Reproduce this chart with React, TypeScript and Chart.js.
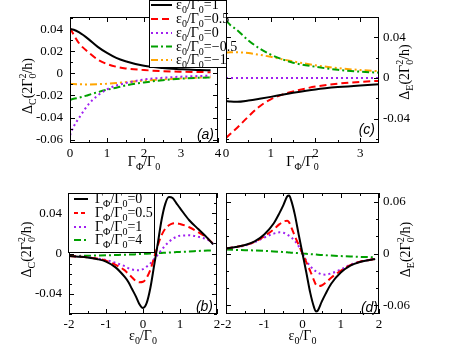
import React, { useEffect, useRef } from 'react';
import { Chart, registerables } from 'chart.js';

Chart.register(...registerables);

const W = 451;
const H = 349;
const SERIF = '"Liberation Serif", "Times New Roman", serif';
const SANS = '"Liberation Sans", Arial, sans-serif';

// ---------- data: panel (a)  Δ_C vs Γ_Φ/Γ_0 ----------
const aGammaPhi = [0, 0.1, 0.25, 0.5, 0.75, 1, 1.25, 1.5, 2, 2.5, 3, 3.5, 3.8];
const aEps1 = [0.04, 0.0395, 0.037, 0.031, 0.024, 0.0185, 0.014, 0.011, 0.0068, 0.0048, 0.0038, 0.003, 0.0028];
const aEps05 = [0.041, 0.035, 0.027, 0.019, 0.0125, 0.0085, 0.006, 0.0045, 0.003, 0.002, 0.0015, 0.0012, 0.001];
const aEps0 = [-0.056, -0.048, -0.04, -0.028, -0.02, -0.0145, -0.011, -0.0088, -0.0055, -0.004, -0.003, -0.0024, -0.002];
const aEpsM05 = [-0.024, -0.023, -0.022, -0.0195, -0.017, -0.0148, -0.013, -0.011, -0.0082, -0.0062, -0.0048, -0.004, -0.0036];
const aEpsM1 = [-0.0095, -0.0097, -0.0099, -0.01, -0.0098, -0.0094, -0.0088, -0.008, -0.0066, -0.0054, -0.0045, -0.0038, -0.0035];

// ---------- data: panel (c)  Δ_E vs Γ_Φ/Γ_0 ----------
const cGammaPhi = [0, 0.1, 0.25, 0.5, 0.75, 1, 1.25, 1.5, 2, 2.5, 3, 3.5];
const cEps1 = [-0.0228, -0.0232, -0.0234, -0.0222, -0.0205, -0.0186, -0.0165, -0.0146, -0.0113, -0.009, -0.0073, -0.006];
const cEps05 = [-0.059, -0.055, -0.049, -0.038, -0.028, -0.021, -0.0165, -0.0132, -0.0085, -0.0056, -0.0038, -0.0027];
const cEps0 = [0, 0, 0, 0, 0, 0, 0, 0, 0, 0, 0, 0];
const cEpsM05 = [0.0565, 0.052, 0.047, 0.037, 0.029, 0.023, 0.0185, 0.015, 0.011, 0.008, 0.0062, 0.005];
const cEpsM1 = [0.025, 0.0252, 0.0252, 0.0245, 0.0228, 0.0208, 0.0185, 0.0163, 0.0125, 0.0097, 0.0078, 0.0064];

// ---------- data: panel (b)  Δ_C vs ε_0/Γ_0 ----------
const bEps = [-2, -1.75, -1.5, -1.25, -1, -0.75, -0.5, -0.4, -0.3, -0.2, -0.1, 0, 0.1, 0.2, 0.3, 0.4, 0.5, 0.6, 0.7, 0.8, 0.9, 1, 1.25, 1.5, 1.75, 1.9];
const bG0 = [-0.0026, -0.0032, -0.004, -0.0055, -0.008, -0.0135, -0.023, -0.028, -0.035, -0.042, -0.05, -0.054, -0.049, -0.034, -0.012, 0.01, 0.033, 0.049, 0.056, 0.055, 0.05, 0.045, 0.033, 0.024, 0.015, 0.009];
const bG05 = [-0.0026, -0.0031, -0.0038, -0.005, -0.0072, -0.011, -0.0165, -0.02, -0.0235, -0.027, -0.0285, -0.028, -0.024, -0.016, -0.004, 0.008, 0.018, 0.0245, 0.028, 0.0298, 0.03, 0.0293, 0.026, 0.021, 0.0148, 0.0095];
const bG1 = [-0.0025, -0.003, -0.0037, -0.0048, -0.0065, -0.0092, -0.0125, -0.0145, -0.0158, -0.0165, -0.0165, -0.0155, -0.013, -0.0098, -0.0055, -0.0012, 0.0035, 0.008, 0.0115, 0.0145, 0.0165, 0.0177, 0.018, 0.0165, 0.0135, 0.0095];
const bG4 = [-0.0026, -0.0024, -0.0022, -0.002, -0.0018, -0.0015, -0.0012, -0.0011, -0.001, -0.0008, -0.0006, -0.0004, -0.0002, 0, 0.0002, 0.0004, 0.0006, 0.0008, 0.001, 0.0012, 0.0014, 0.0016, 0.002, 0.0025, 0.0029, 0.0031];

// ---------- data: panel (d)  Δ_E vs ε_0/Γ_0 ----------
const dEps = [-2, -1.75, -1.5, -1.25, -1, -0.75, -0.6, -0.5, -0.4, -0.35, -0.3, -0.2, -0.1, 0, 0.1, 0.2, 0.3, 0.35, 0.4, 0.5, 0.6, 0.75, 1, 1.25, 1.5, 1.75, 1.9];
const dG0 = [0.0058, 0.0075, 0.0098, 0.014, 0.022, 0.035, 0.047, 0.056, 0.066, 0.067, 0.062, 0.045, 0.022, 0, -0.022, -0.045, -0.062, -0.067, -0.066, -0.056, -0.047, -0.035, -0.022, -0.014, -0.0098, -0.0075, -0.0063];
const dG05 = [0.0058, 0.0074, 0.0096, 0.0135, 0.02, 0.028, 0.034, 0.037, 0.0378, 0.036, 0.031, 0.02, 0.01, 0, -0.01, -0.02, -0.031, -0.036, -0.0378, -0.037, -0.034, -0.028, -0.02, -0.0135, -0.0096, -0.0074, -0.0062];
const dG1 = [0.0058, 0.0073, 0.0094, 0.013, 0.0185, 0.023, 0.0245, 0.024, 0.022, 0.0205, 0.019, 0.0145, 0.0085, 0, -0.0085, -0.0145, -0.019, -0.0205, -0.022, -0.024, -0.0245, -0.023, -0.0185, -0.013, -0.0094, -0.0073, -0.0062];
const dG4 = [0.0045, 0.0042, 0.0039, 0.0035, 0.003, 0.0024, 0.002, 0.0017, 0.0014, 0.0012, 0.001, 0.0007, 0.00035, 0, -0.00035, -0.0007, -0.001, -0.0012, -0.0014, -0.0017, -0.002, -0.0024, -0.003, -0.0035, -0.0039, -0.0042, -0.0044];

// ---------- ticks ----------
const aXTicks = [0, 1, 2, 3, 4];
const aXLabels = ['0', '1', '2', '3', '4'];
const aYTicks = [-0.06, -0.04, -0.02, 0, 0.02, 0.04];
const aYLabels = ['-0.06', '-0.04', '-0.02', '0', '0.02', '0.04'];
const cXTicks = [0, 1, 2, 3];
const cXLabels = ['0', '1', '2', '3'];
const cYTicks = [-0.04, 0, 0.04];
const cYLabels = ['-0.04', '0', '0.04'];
const bXTicks = [-2, -1, 0, 1, 2];
const bXLabels = ['-2', '-1', '0', '1', '2'];
const bYTicks = [-0.04, 0, 0.04];
const bYLabels = ['-0.04', '0', '0.04'];
const dXTicks = [-2, -1, 0, 1, 2];
const dXLabels = ['-2', '-1', '0', '1', '2'];
const dYTicks = [-0.06, 0, 0.06];
const dYLabels = ['-0.06', '0', '0.06'];

// ---------- styles ----------
const BLACK = '#000000';
const RED = '#ff0000';
const PURPLE = '#a020f0';
const GREEN = '#00a000';
const ORANGE = '#ffa500';
const SOLID: number[] = [];
const DASH = [7, 4];
const DOT = [2, 3];
const DASHDOT = [7, 3, 2, 3];
const DASHDOTDOT = [7, 3, 2, 3, 2, 3];

type Seg = { t: string; sub?: string; sup?: string };

function drawRich(ctx: CanvasRenderingContext2D, parts: Seg[], x: number, y: number, size: number, align: 'left' | 'center') {
  const subSize = Math.round(size * 0.72);
  const base = `${size}px ${SERIF}`;
  const small = `${subSize}px ${SERIF}`;
  const widths: number[][] = [];
  let total = 0;
  for (const p of parts) {
    ctx.font = base;
    const wt = ctx.measureText(p.t).width;
    ctx.font = small;
    const ws = Math.max(p.sub ? ctx.measureText(p.sub).width : 0, p.sup ? ctx.measureText(p.sup).width : 0);
    widths.push([wt, ws]);
    total += wt + ws;
  }
  let cx = align === 'center' ? x - total / 2 : x;
  ctx.textAlign = 'left';
  ctx.textBaseline = 'alphabetic';
  ctx.fillStyle = '#000';
  parts.forEach((p, i) => {
    ctx.font = base;
    ctx.fillText(p.t, cx, y);
    cx += widths[i][0];
    ctx.font = small;
    if (p.sub) ctx.fillText(p.sub, cx, y + size * 0.3);
    if (p.sup) ctx.fillText(p.sup, cx, y - size * 0.45);
    cx += widths[i][1];
  });
}

type Series = { x: number[]; y: number[]; color: string; dash: number[] };
type LegendSpec = {
  box: [number, number, number, number];
  rowY: number[];
  lineX: [number, number];
  textX: number;
  size: number;
  items: { color: string; dash: number[]; label: Seg[] }[];
};
type PanelSpec = {
  area: [number, number, number, number];
  yPos: 'left' | 'right';
  xRange: [number, number];
  yRange: [number, number];
  xTicks: number[];
  xLabels: string[];
  yTicks: number[];
  yLabels: string[];
  xMajor: number;
  xMinor: number;
  yMajor: number;
  yMinor: number;
  series: Series[];
  xTitle: Seg[];
  yTitle: Seg[];
  xTitleDy: number;
  yTitleX: number;
  yTitleDy: number;
  tag: string;
  tagPos: [number, number];
  yPad: number;
  legend?: LegendSpec;
};

const deltaC: Seg[] = [{ t: 'Δ', sub: 'C' }, { t: '(2Γ', sub: '0', sup: '2' }, { t: '/h)' }];
const deltaE: Seg[] = [{ t: 'Δ', sub: 'E' }, { t: '(2Γ', sub: '0', sup: '2' }, { t: '/h)' }];
const gphiTitle: Seg[] = [{ t: 'Γ', sub: 'Φ' }, { t: '/Γ', sub: '0' }];
const epsTitle: Seg[] = [{ t: 'ε', sub: '0' }, { t: '/Γ', sub: '0' }];

const epsLabel = (v: string): Seg[] => [{ t: 'ε', sub: '0' }, { t: '/Γ', sub: '0' }, { t: '=' + v }];
const gLabel = (v: string): Seg[] => [{ t: 'Γ', sub: 'Φ' }, { t: '/Γ', sub: '0' }, { t: '=' + v }];

const panelA: PanelSpec = {
  area: [70, 17, 218, 143],
  yPos: 'left',
  xRange: [0, 4],
  yRange: [-0.063, 0.051],
  xTicks: aXTicks, xLabels: aXLabels, yTicks: aYTicks, yLabels: aYLabels,
  xMajor: 1, xMinor: 0.5, yMajor: 0.02, yMinor: 0.01,
  series: [
    { x: aGammaPhi, y: aEps1, color: BLACK, dash: SOLID },
    { x: aGammaPhi, y: aEps05, color: RED, dash: DASH },
    { x: aGammaPhi, y: aEps0, color: PURPLE, dash: DOT },
    { x: aGammaPhi, y: aEpsM05, color: GREEN, dash: DASHDOT },
    { x: aGammaPhi, y: aEpsM1, color: ORANGE, dash: DASHDOTDOT },
  ],
  xTitle: gphiTitle, yTitle: deltaC, xTitleDy: 23, yTitleX: 27, yTitleDy: 6,
  tag: '(a)', tagPos: [214, 139], yPad: 7,
  legend: {
    box: [149, 0, 226, 67],
    rowY: [5, 19, 33, 46.5, 60],
    lineX: [151, 172],
    textX: 176,
    size: 14,
    items: [
      { color: BLACK, dash: SOLID, label: epsLabel('1') },
      { color: RED, dash: DASH, label: epsLabel('0.5') },
      { color: PURPLE, dash: DOT, label: epsLabel('0') },
      { color: GREEN, dash: DASHDOT, label: epsLabel('−0.5') },
      { color: ORANGE, dash: DASHDOTDOT, label: epsLabel('−1') },
    ],
  },
};

const panelC: PanelSpec = {
  area: [226, 17, 379, 143],
  yPos: 'right',
  xRange: [0, 3.42],
  yRange: [-0.064, 0.06],
  xTicks: cXTicks, xLabels: cXLabels, yTicks: cYTicks, yLabels: cYLabels,
  xMajor: 1, xMinor: 0.5, yMajor: 0.04, yMinor: 0.02,
  series: [
    { x: cGammaPhi, y: cEps1, color: BLACK, dash: SOLID },
    { x: cGammaPhi, y: cEps05, color: RED, dash: DASH },
    { x: cGammaPhi, y: cEps0, color: PURPLE, dash: DOT },
    { x: cGammaPhi, y: cEpsM05, color: GREEN, dash: DASHDOT },
    { x: cGammaPhi, y: cEpsM1, color: ORANGE, dash: DASHDOTDOT },
  ],
  xTitle: gphiTitle, yTitle: deltaE, xTitleDy: 23, yTitleX: 404, yTitleDy: -8,
  tag: '(c)', tagPos: [375, 134], yPad: 4,
};

const panelB: PanelSpec = {
  area: [69, 193, 217, 314],
  yPos: 'left',
  xRange: [-2, 2],
  yRange: [-0.06, 0.06],
  xTicks: bXTicks, xLabels: bXLabels, yTicks: bYTicks, yLabels: bYLabels,
  xMajor: 1, xMinor: 0.5, yMajor: 0.04, yMinor: 0.01,
  series: [
    { x: bEps, y: bG0, color: BLACK, dash: SOLID },
    { x: bEps, y: bG05, color: RED, dash: DASH },
    { x: bEps, y: bG1, color: PURPLE, dash: DOT },
    { x: bEps, y: bG4, color: GREEN, dash: DASHDOT },
  ],
  xTitle: epsTitle, yTitle: deltaC, xTitleDy: 26, yTitleX: 26, yTitleDy: -4,
  tag: '(b)', tagPos: [213, 311], yPad: 7,
  legend: {
    box: [68, 193, 154, 252],
    rowY: [199, 213, 227, 240],
    lineX: [74, 88],
    textX: 95,
    size: 14,
    items: [
      { color: BLACK, dash: SOLID, label: gLabel('0') },
      { color: RED, dash: [4, 3], label: gLabel('0.5') },
      { color: PURPLE, dash: DOT, label: gLabel('1') },
      { color: GREEN, dash: DASHDOT, label: gLabel('4') },
    ],
  },
};

const panelD: PanelSpec = {
  area: [226, 193, 379, 314],
  yPos: 'right',
  xRange: [-2, 2],
  yRange: [-0.07, 0.07],
  xTicks: dXTicks, xLabels: dXLabels, yTicks: dYTicks, yLabels: dYLabels,
  xMajor: 1, xMinor: 0.5, yMajor: 0.06, yMinor: 0.02,
  series: [
    { x: dEps, y: dG0, color: BLACK, dash: SOLID },
    { x: dEps, y: dG05, color: RED, dash: DASH },
    { x: dEps, y: dG1, color: PURPLE, dash: DOT },
    { x: dEps, y: dG4, color: GREEN, dash: DASHDOT },
  ],
  xTitle: epsTitle, yTitle: deltaE, xTitleDy: 26, yTitleX: 405, yTitleDy: -4,
  tag: '(d)', tagPos: [378, 312], yPad: 4,
};

function minorValues(lo: number, hi: number, step: number): number[] {
  const out: number[] = [];
  const k0 = Math.ceil(lo / step - 1e-9);
  const k1 = Math.floor(hi / step + 1e-9);
  for (let k = k0; k <= k1; k++) out.push(k * step);
  return out;
}

function isMajor(v: number, major: number) {
  const r = v / major;
  return Math.abs(r - Math.round(r)) < 1e-6;
}

function framePlugin(spec: PanelSpec) {
  return {
    id: 'frame' + spec.tag,
    afterDraw(chart: any) {
      const ctx: CanvasRenderingContext2D = chart.ctx;
      const { left, top, right, bottom } = chart.chartArea;
      const xs = chart.scales.x;
      const ys = chart.scales.y;
      ctx.save();
      ctx.strokeStyle = '#000';
      ctx.lineWidth = 1;
      ctx.setLineDash([]);
      ctx.strokeRect(left + 0.5, top + 0.5, right - left - 1, bottom - top - 1);
      ctx.beginPath();
      for (const v of minorValues(spec.xRange[0], spec.xRange[1], spec.xMinor)) {
        const p = Math.round(xs.getPixelForValue(v)) + 0.5;
        const len = isMajor(v, spec.xMajor) ? 5 : 3;
        ctx.moveTo(p, bottom);
        ctx.lineTo(p, bottom - len);
        ctx.moveTo(p, top);
        ctx.lineTo(p, top + len);
      }
      for (const v of minorValues(spec.yRange[0], spec.yRange[1], spec.yMinor)) {
        const p = Math.round(ys.getPixelForValue(v)) + 0.5;
        const len = isMajor(v, spec.yMajor) ? 5 : 3;
        ctx.moveTo(left, p);
        ctx.lineTo(left + len, p);
        ctx.moveTo(right, p);
        ctx.lineTo(right - len, p);
      }
      ctx.stroke();

      // axis titles
      drawRich(ctx, spec.xTitle, (left + right) / 2, bottom + spec.xTitleDy, 14, 'center');
      ctx.save();
      ctx.translate(spec.yTitleX, (top + bottom) / 2 + spec.yTitleDy);
      ctx.rotate(-Math.PI / 2);
      drawRich(ctx, spec.yTitle, 0, 5, 14, 'center');
      ctx.restore();

      // panel tag
      ctx.font = `italic 14px ${SANS}`;
      ctx.fillStyle = '#000';
      ctx.textAlign = 'right';
      ctx.textBaseline = 'alphabetic';
      ctx.fillText(spec.tag, spec.tagPos[0], spec.tagPos[1]);

      // legend
      const lg = spec.legend;
      if (lg) {
        const [bx0, by0, bx1, by1] = lg.box;
        ctx.fillStyle = '#fff';
        ctx.fillRect(bx0, by0, bx1 - bx0, by1 - by0);
        ctx.strokeStyle = '#000';
        ctx.lineWidth = 1;
        ctx.setLineDash([]);
        ctx.strokeRect(bx0 + 0.5, by0 + 0.5, bx1 - bx0, by1 - by0);
        lg.items.forEach((it, i) => {
          const y = lg.rowY[i];
          ctx.strokeStyle = it.color;
          ctx.lineWidth = 2;
          ctx.setLineDash(it.dash);
          ctx.beginPath();
          ctx.moveTo(lg.lineX[0], y);
          ctx.lineTo(lg.lineX[1], y);
          ctx.stroke();
          ctx.setLineDash([]);
          drawRich(ctx, it.label, lg.textX, y + 4, lg.size, 'left');
        });
      }
      ctx.restore();
    },
  };
}

function makeChart(canvas: HTMLCanvasElement, spec: PanelSpec) {
  const [L, T, R, B] = spec.area;
  const yWidth = spec.yPos === 'left' ? L : W - R;
  const padding = spec.yPos === 'left'
    ? { left: 0, right: W - R, top: T, bottom: 0 }
    : { left: L, right: 0, top: T, bottom: 0 };
  const tickFont = { family: SERIF, size: 13 };
  return new Chart(canvas, {
    type: 'line',
    data: {
      datasets: spec.series.map((s) => ({
        data: s.x.map((xv, i) => ({ x: xv, y: s.y[i] })),
        borderColor: s.color,
        borderDash: s.dash,
        borderWidth: 2,
        borderCapStyle: 'butt',
        pointRadius: 0,
        fill: false,
        cubicInterpolationMode: 'monotone',
      })),
    },
    options: {
      responsive: false,
      animation: false,
      devicePixelRatio: 1,
      events: [],
      layout: { padding },
      plugins: { legend: { display: false }, tooltip: { enabled: false }, title: { display: false } },
      scales: {
        x: {
          type: 'linear',
          position: 'bottom',
          min: spec.xRange[0],
          max: spec.xRange[1],
          afterFit: (s: any) => { s.height = H - B; },
          afterBuildTicks: (s: any) => { s.ticks = spec.xTicks.map((v) => ({ value: v })); },
          grid: { display: false, drawTicks: false },
          border: { display: false },
          ticks: {
            autoSkip: false,
            maxRotation: 0,
            padding: 3,
            color: '#000',
            font: tickFont,
            callback: (_v: any, i: number) => spec.xLabels[i],
          },
        },
        y: {
          type: 'linear',
          position: spec.yPos,
          min: spec.yRange[0],
          max: spec.yRange[1],
          afterFit: (s: any) => { s.width = yWidth; },
          afterBuildTicks: (s: any) => { s.ticks = spec.yTicks.map((v) => ({ value: v })); },
          grid: { display: false, drawTicks: false },
          border: { display: false },
          ticks: {
            autoSkip: false,
            padding: spec.yPad,
            color: '#000',
            font: tickFont,
            callback: (_v: any, i: number) => spec.yLabels[i],
          },
        },
      },
    } as any,
    plugins: [framePlugin(spec)],
  });
}

function Panel({ spec }: { spec: PanelSpec }) {
  const ref = useRef<HTMLCanvasElement>(null);
  useEffect(() => {
    if (!ref.current) return;
    const chart = makeChart(ref.current, spec);
    return () => chart.destroy();
  }, [spec]);
  return (
    <canvas
      ref={ref}
      width={W}
      height={H}
      style={{ position: 'absolute', left: 0, top: 0, width: W, height: H }}
    />
  );
}

export default function App() {
  return (
    <div style={{ position: 'fixed', left: 0, top: 0, width: W, height: H, background: '#fff', overflow: 'hidden' }}>
      <Panel spec={panelC} />
      <Panel spec={panelD} />
      <Panel spec={panelA} />
      <Panel spec={panelB} />
    </div>
  );
}
